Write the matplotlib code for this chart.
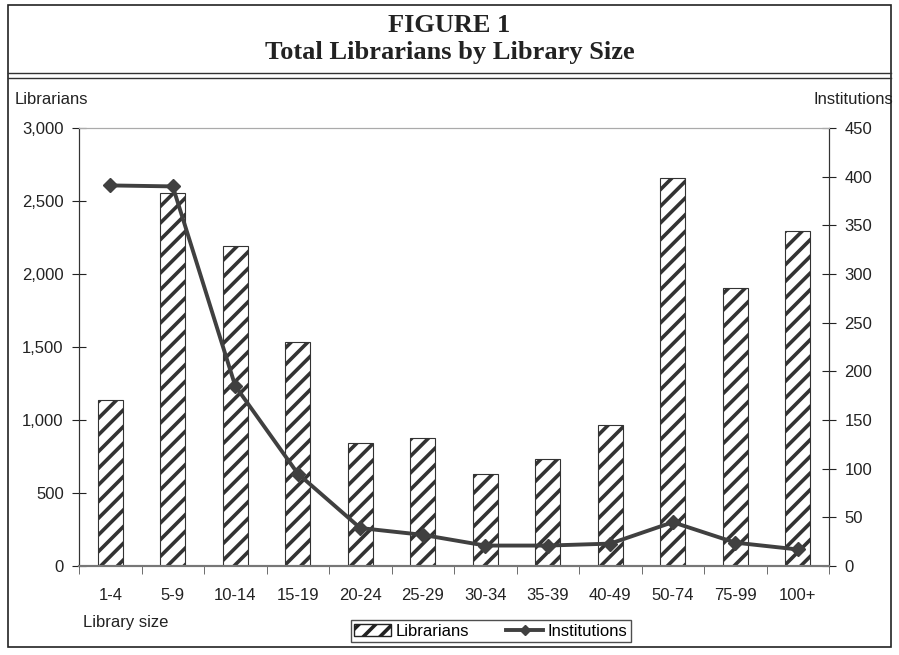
#!/usr/bin/env python3
# -*- coding: utf-8 -*-

import numpy as np
import matplotlib
matplotlib.use("Agg")
import matplotlib.pyplot as plt
from matplotlib.ticker import FuncFormatter, FixedLocator
from matplotlib.lines import Line2D

# データ
sizes = ["1-4", "5-9", "10-14", "15-19", "20-24", "25-29", "30-34",
         "35-39", "40-49", "50-74", "75-99", "100+"]
librarians = [1137, 2555, 2195, 1535, 840, 877, 630, 733, 966, 2658, 1904, 2295]
institutions = [391, 390, 185, 95, 39, 32, 21, 21, 23, 45, 24, 17]

plt.rcParams['font.family'] = ['Liberation Sans', 'DejaVu Sans']
plt.rcParams['hatch.linewidth'] = 2.6
plt.rcParams['hatch.color'] = '#222222'

fig = plt.figure(figsize=(8.99, 6.55), dpi=100)
W, H = 899, 655

def fx(px): return px / W
def fy(py): return 1 - py / H

# 外枠・タイトル
fig.add_artist(plt.Rectangle((fx(8), fy(647)), fx(883), (647 - 5) / H,
                             fill=False, lw=1.2, ec='#222222', transform=fig.transFigure))
for yy in (73, 78):
    fig.add_artist(Line2D([fx(8), fx(891)], [fy(yy), fy(yy)], lw=1.0, color='#333333',
                          transform=fig.transFigure))
fig.text(0.5, fy(25), "FIGURE 1", ha='center', va='center', fontsize=19,
         fontweight='bold', family=['Liberation Serif'], color='#222222')
fig.text(0.5, fy(53), "Total Librarians by Library Size", ha='center', va='center',
         fontsize=19, fontweight='bold', family=['Liberation Serif'], color='#222222')

ax = fig.add_axes([fx(79), fy(566), fx(829) - fx(79), (566 - 128) / H])
ax2 = ax.twinx()

x = np.arange(len(sizes))
ax.bar(x, librarians, width=0.4, color='white', edgecolor='#333333', hatch='//',
       linewidth=0.8, zorder=2)
ax.set_xlim(-0.5, len(sizes) - 0.5)
ax.set_ylim(0, 3000)
ax.yaxis.set_major_locator(FixedLocator(np.arange(0, 3001, 500)))
ax.yaxis.set_major_formatter(FuncFormatter(lambda v, p: f"{int(v):,}"))
ax.set_xticks(x)
ax.set_xticklabels(sizes)
ax.xaxis.set_minor_locator(FixedLocator(np.arange(-0.5, len(sizes), 1.0)))
ax.tick_params(axis='x', which='major', length=0, pad=16, labelsize=12, colors='#222222')
ax.tick_params(axis='x', which='minor', length=6, direction='out', color='#555555')
ax.tick_params(axis='y', direction='inout', length=10, labelsize=12, colors='#222222', pad=6)

ax2.plot(x, institutions, color='#404040', lw=2.8, marker='D', markersize=7, zorder=3)
ax2.set_ylim(0, 450)
ax2.yaxis.set_major_locator(FixedLocator(np.arange(0, 451, 50)))
ax2.tick_params(axis='y', direction='inout', length=10, labelsize=12, colors='#222222', pad=6)

for a in (ax, ax2):
    a.spines['top'].set_color('#aaaaaa')
    a.spines['left'].set_color('#333333')
    a.spines['right'].set_color('#333333')
    a.spines['bottom'].set_color('#777777')
    a.spines['bottom'].set_linewidth(1.5)

fig.text(fx(15), fy(100), "Librarians", ha='left', va='center', fontsize=12, color='#222222')
fig.text(fx(893), fy(100), "Institutions", ha='right', va='center', fontsize=12, color='#222222')
fig.text(fx(83), fy(622), "Library size", ha='left', va='center', fontsize=12, color='#222222')

# 凡例
h1 = plt.Rectangle((0, 0), 1, 1, fc='white', ec='#222222', hatch='//')
h2 = Line2D([], [], color='#404040', lw=2.8, marker='D', markersize=5)
leg = fig.legend([h1, h2], ["Librarians", "Institutions"], loc='center',
                 bbox_to_anchor=(fx(491), fy(631)), ncol=2, frameon=True, fancybox=False,
                 edgecolor='#222222', fontsize=12, handlelength=2.2, handletextpad=0.3,
                 columnspacing=2.2, borderpad=0.2)
leg.get_frame().set_linewidth(1.0)

fig.savefig("out.png", dpi=100)
